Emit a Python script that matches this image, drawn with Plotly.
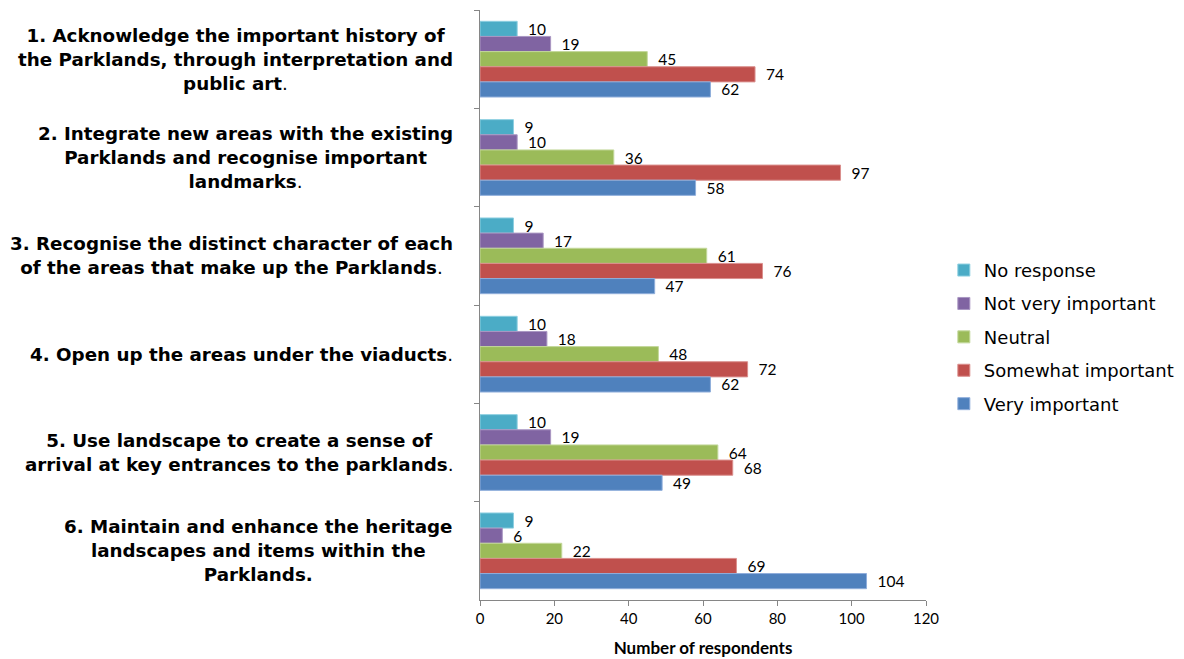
import plotly.graph_objects as go

categories = ["c1", "c2", "c3", "c4", "c5", "c6"]
cat_labels = [
    "<b>1. Acknowledge the important history of<br>the Parklands, through interpretation and<br>public art</b>.",
    "<b>2. Integrate new areas with the existing<br>Parklands and recognise important<br>landmarks</b>.",
    "<b>3. Recognise the distinct character of each<br>of the areas that make up the Parklands</b>.",
    "<b>4. Open up the areas under the viaducts</b>.",
    "<b>5. Use landscape to create a sense of<br>arrival at key entrances to the parklands</b>.",
    "<b>6. Maintain and enhance the heritage<br>landscapes and items within the<br>Parklands.</b>",
]
series_names = ["No response", "Not very important", "Neutral", "Somewhat important", "Very important"]
no_response = [10, 9, 9, 10, 10, 9]
not_very_important = [19, 10, 17, 18, 19, 6]
neutral = [45, 36, 61, 48, 64, 22]
somewhat_important = [74, 97, 76, 72, 68, 69]
very_important = [62, 58, 47, 62, 49, 104]
x_ticks = [0, 20, 40, 60, 80, 100, 120]

series_values = [no_response, not_very_important, neutral, somewhat_important, very_important]
colors = ["#4BACC6", "#8064A2", "#9BBB59", "#C0504D", "#4F81BD"]
edges = ["#8DCFE0", "#A996C2", "#C3D89B", "#DA8F8D", "#8FAEDB"]

fig = go.Figure()
for name, vals, c, e in zip(series_names, series_values, colors, edges):
    fig.add_trace(go.Bar(
        y=categories, x=vals, name=name, orientation="h", legendgroup=name,
        marker=dict(color=c, line=dict(color=e, width=1)),
        text=vals, texttemplate="\u00a0\u00a0%{x}", textposition="outside",
        constraintext="none",
        textfont=dict(family="Lato", size=15.5, color="#000000"),
        cliponaxis=False,
    ))

for cat, lab in zip(categories, cat_labels):
    fig.add_annotation(
        x=0, xref="paper", y=cat, yref="y", xanchor="right", yanchor="middle",
        xshift=-25, yshift=0, text=lab, showarrow=False, align="center",
        font=dict(family="DejaVu Sans", size=18.3, color="#000000"),
    )

fig.update_layout(
    width=1176, height=651,
    margin=dict(l=472, r=258, t=2, b=59),
    paper_bgcolor="white", plot_bgcolor="white",
    barmode="group", bargap=0.23, bargroupgap=0,
    showlegend=True,
    legend=dict(
        x=1.04, xanchor="left", y=0.446, yanchor="middle",
        traceorder="grouped",
        font=dict(family="DejaVu Sans", size=18, color="#000000"),
        itemwidth=30, tracegroupgap=7,
    ),
    xaxis=dict(
        range=[0, 120], tickvals=x_ticks, showgrid=False, zeroline=False,
        showline=True, linecolor="#868686", linewidth=1,
        ticks="outside", ticklen=5, tickcolor="#868686",
        tickfont=dict(family="Lato", size=15, color="#000000"),
        title=dict(text="<b>Number of respondents</b>", standoff=16,
                   font=dict(family="Lato", size=17, color="#000000")),
    ),
    yaxis=dict(
        categoryorder="array", categoryarray=categories, autorange="reversed",
        showticklabels=False, showgrid=False, zeroline=False,
        showline=True, linecolor="#868686", linewidth=1,
        ticks="outside", ticklen=5, tickcolor="#868686", tickson="boundaries",
    ),
)

fig.write_html("out.html")
